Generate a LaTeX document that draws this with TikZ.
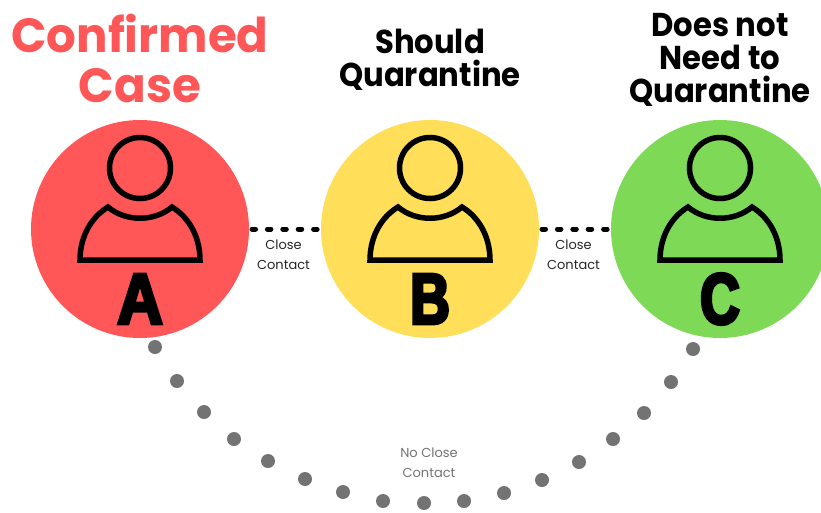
\documentclass[tikz,border=0pt]{standalone}
\usepackage{fontspec}
\setmainfont{Poppins}
\newfontfamily\heavyf[FakeBold=4.5,FakeStretch=0.88]{Liberation Sans Bold}
\newfontfamily\heavyn[FakeBold=4.5,FakeStretch=0.76]{Liberation Sans Bold}
\newfontfamily\titlef[FakeStretch=0.93]{Poppins Bold}
\newfontfamily\bigtitlef[FakeStretch=0.973]{Poppins Bold}
\definecolor{redc}{HTML}{FF5757}
\definecolor{yelc}{HTML}{FFDE59}
\definecolor{grec}{HTML}{7ED957}
\definecolor{dotc}{HTML}{737373}
\tikzset{
  disc/.style={circle,minimum size=218pt,inner sep=0pt,outer sep=0pt},
  headring/.style={draw=black,line width=5.5pt},
  linkline/.style={line width=5pt,draw=black,line cap=round,dash pattern=on 3.5pt off 11.9pt,shorten <=3pt,shorten >=1pt},
  linktext/.style={align=center,font=\fontsize{13}{20}\selectfont,text=black!85},
  greydot/.style={circle,fill=dotc,minimum size=14pt,inner sep=0pt},
  title/.style={align=center,font=\fontsize{33}{33}\selectfont\titlef,text=black},
  letter/.style={font=\fontsize{72}{72}\selectfont\heavyf,text=black},
  letternarrow/.style={font=\fontsize{72}{72}\selectfont\heavyn,text=black}
}
\newcommand{\personfig}[1]{%
  \draw[headring] (#1+0,168) circle (30.5pt);
  \draw[line width=5.5pt,line join=miter,black] (#1-32,207) .. controls (#1-14,222) and (#1+14,222) .. (#1+32,207)
     .. controls (#1+50,218) and (#1+60,238) .. (#1+60,260) -- (#1-60,260)
     .. controls (#1-60,238) and (#1-50,218) .. (#1-32,207) -- cycle;
}
\begin{document}
\begin{tikzpicture}[x=1pt,y=-1pt]
\useasboundingbox (0,0) rectangle (821,512);
\node[disc,fill=redc] (A) at (140,229) {};
\node[disc,fill=yelc] (B) at (430,229) {};
\node[disc,fill=grec] (C) at (720,229) {};
\personfig{140}
\personfig{430}
\personfig{720}
\node[letter] (la) at (140,299) {A};
\node[letternarrow] (lb) at (430,299) {B};
\node[letternarrow] (lc) at (720,299) {C};
\node[title,text=redc,font=\fontsize{48}{50}\selectfont\bigtitlef] (ta) at (140,58) {Confirmed\\Case};
\node[title] (tb) at (430,60) {Should\\Quarantine};
\node[title] (tc) at (720,60) {Does not\\Need to\\Quarantine};
\draw[linkline] (A.east) -- (B.west);
\draw[linkline] (B.east) -- (C.west);
\node[linktext] (ab) at (283.5,254.5) {Close\\Contact};
\node[linktext] (bc) at (573.5,254.5) {Close\\Contact};
\node[linktext,text=dotc] (ac) at (429,463) {No Close\\Contact};
\foreach \i/\x/\y in {1/155/347,2/177/381,3/204/412,4/234/439,5/268/461,6/305/479,7/343/492,8/383/501,9/424/503,10/464/501,11/504/493,12/542/480,13/579/462,14/613/439,15/644/413,16/671/382,17/693/349}
  \node[greydot] (d\i) at (\x,\y) {};
\end{tikzpicture}
\end{document}
